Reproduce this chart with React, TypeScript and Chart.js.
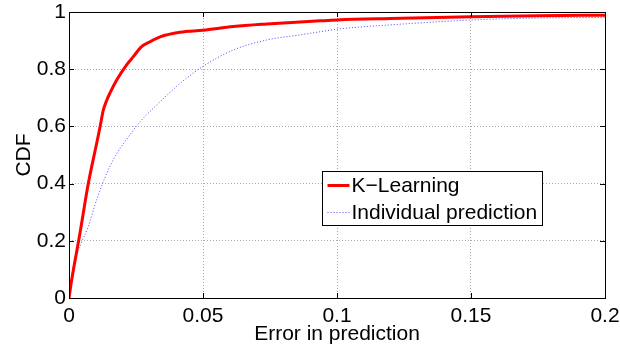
import React, { useEffect, useRef } from "react";
import { Chart, registerables } from "chart.js";

Chart.register(...registerables);

const kLearningX = [0, 0.001, 0.0041, 0.0072, 0.0103, 0.0116, 0.0128, 0.0141, 0.0153, 0.0178, 0.0215, 0.024, 0.0271, 0.0302, 0.034, 0.0414, 0.05, 0.0613, 0.0738, 0.0862, 0.0937, 0.1, 0.12, 0.15, 0.175, 0.2];
const kLearningY = [0, 0.063, 0.227, 0.4, 0.54, 0.599, 0.657, 0.692, 0.717, 0.762, 0.815, 0.844, 0.879, 0.896, 0.913, 0.929, 0.936, 0.949, 0.958, 0.965, 0.969, 0.972, 0.977, 0.983, 0.987, 0.989];
const individualX = [0, 0.0016, 0.0045, 0.0072, 0.0103, 0.0141, 0.0175, 0.0215, 0.0265, 0.034, 0.0414, 0.05, 0.0613, 0.0737, 0.0862, 0.0937, 0.1, 0.12, 0.15, 0.175, 0.2];
const individualY = [0, 0.11, 0.19, 0.25, 0.343, 0.436, 0.5, 0.555, 0.616, 0.686, 0.75, 0.81, 0.867, 0.902, 0.92, 0.931, 0.94, 0.955, 0.972, 0.979, 0.981];

const xTicks = [0, 0.05, 0.1, 0.15, 0.2];
const xTickLabels = ["0", "0.05", "0.1", "0.15", "0.2"];
const yTicks = [0, 0.2, 0.4, 0.6, 0.8, 1];
const yTickLabels = ["0", "0.2", "0.4", "0.6", "0.8", "1"];

const seriesLabels = ["K\u2212Learning", "Individual prediction"];
const xTitle = "Error in prediction";
const yTitle = "CDF";

const FONT = "'Liberation Sans', Arial, Helvetica, sans-serif";

const framePlugin = {
  id: "frameAndLegend",
  afterDraw(chart: any) {
    const { ctx, chartArea } = chart;
    const { left, right, top, bottom } = chartArea;
    const xs = chart.scales.x;
    const ys = chart.scales.y;
    ctx.save();
    ctx.strokeStyle = "#000";
    ctx.lineWidth = 1;
    ctx.setLineDash([]);
    ctx.strokeRect(Math.round(left) + 0.5, Math.round(top) + 0.5, Math.round(right - left), Math.round(bottom - top));
    const tl = 5;
    ctx.beginPath();
    xTicks.forEach((v) => {
      const px = Math.round(xs.getPixelForValue(v)) + 0.5;
      ctx.moveTo(px, bottom);
      ctx.lineTo(px, bottom - tl);
      ctx.moveTo(px, top);
      ctx.lineTo(px, top + tl);
    });
    yTicks.forEach((v) => {
      const py = Math.round(ys.getPixelForValue(v)) + 0.5;
      ctx.moveTo(left, py);
      ctx.lineTo(left + tl, py);
      ctx.moveTo(right, py);
      ctx.lineTo(right - tl, py);
    });
    ctx.stroke();

    const bx = Math.round(left + 253) + 0.5;
    const by = Math.round(top + 159) + 0.5;
    const bw = 220;
    const bh = 54;
    ctx.fillStyle = "#fff";
    ctx.fillRect(bx, by, bw, bh);
    ctx.strokeStyle = "#000";
    ctx.strokeRect(bx, by, bw, bh);
    const ds = chart.data.datasets;
    const rows = [by + 14, by + 41];
    ds.forEach((d: any, i: number) => {
      ctx.strokeStyle = d.borderColor;
      ctx.lineWidth = d.borderWidth;
      ctx.setLineDash(d.borderDash || []);
      ctx.beginPath();
      ctx.moveTo(bx + 5, rows[i]);
      ctx.lineTo(bx + 27, rows[i]);
      ctx.stroke();
      ctx.setLineDash([]);
      ctx.fillStyle = "#000";
      ctx.font = "21px " + FONT;
      ctx.textBaseline = "middle";
      ctx.textAlign = "left";
      ctx.fillText(d.label, bx + 29, rows[i] + 1);
    });
    ctx.restore();
  },
};

const zeroPad = (s: any) => {
  s.paddingTop = 0;
  s.paddingBottom = 0;
  s.paddingLeft = 0;
  s.paddingRight = 0;
};

export default function App() {
  const ref = useRef<HTMLCanvasElement | null>(null);
  useEffect(() => {
    if (!ref.current) return;
    const red = kLearningX.map((x, i) => ({ x, y: kLearningY[i] }));
    const blue = individualX.map((x, i) => ({ x, y: individualY[i] }));
    const chart = new Chart(ref.current, {
      type: "scatter",
      data: {
        datasets: [
          {
            label: seriesLabels[0],
            data: red,
            showLine: true,
            borderColor: "#ff0000",
            backgroundColor: "#ff0000",
            borderWidth: 3,
            pointRadius: 0,
            cubicInterpolationMode: "monotone",
          },
          {
            label: seriesLabels[1],
            data: blue,
            showLine: true,
            borderColor: "rgba(40,40,255,0.85)",
            backgroundColor: "rgba(40,40,255,0.85)",
            borderWidth: 1,
            borderDash: [1, 2],
            pointRadius: 0,
            cubicInterpolationMode: "monotone",
          },
        ],
      },
      options: {
        animation: false,
        responsive: false,
        layout: { padding: { top: 12, right: 15, left: 0, bottom: 0 } },
        plugins: { legend: { display: false }, tooltip: { enabled: false } },
        scales: {
          x: {
            type: "linear",
            min: 0,
            max: 0.2,
            afterBuildTicks: (s: any) => {
              s.ticks = xTicks.map((v) => ({ value: v }));
            },
            afterFit: (s: any) => {
              s.height = 49;
              zeroPad(s);
            },
            ticks: {
              autoSkip: false,
              maxRotation: 0,
              color: "#000",
              padding: 6,
              font: { size: 21, family: FONT },
              callback: (v: any) => {
                const i = xTicks.indexOf(Number(v));
                return i >= 0 ? xTickLabels[i] : "";
              },
            },
            grid: { color: "#a8a8a8", lineWidth: 1, drawTicks: false },
            border: { display: false, dash: [1, 2] },
            title: {
              display: true,
              text: xTitle,
              color: "#000",
              font: { size: 21, family: FONT },
              padding: { top: 0, bottom: 0 },
            },
          },
          y: {
            type: "linear",
            min: 0,
            max: 1,
            afterBuildTicks: (s: any) => {
              s.ticks = yTicks.map((v) => ({ value: v }));
            },
            afterFit: (s: any) => {
              s.width = 69;
              zeroPad(s);
            },
            ticks: {
              autoSkip: false,
              color: "#000",
              padding: 3,
              font: { size: 21, family: FONT },
              callback: (v: any) => {
                const i = yTicks.indexOf(Number(v));
                return i >= 0 ? yTickLabels[i] : "";
              },
            },
            grid: { color: "#a8a8a8", lineWidth: 1, drawTicks: false },
            border: { display: false, dash: [1, 2] },
            title: {
              display: true,
              text: yTitle,
              color: "#000",
              font: { size: 21, family: FONT },
              padding: { top: 12, bottom: 0 },
            },
          },
        },
      },
      plugins: [framePlugin],
    } as any);
    return () => chart.destroy();
  }, []);
  return (
    <div style={{ position: "absolute", left: 0, top: 0, width: 620, height: 347, background: "#fff" }}>
      <canvas ref={ref} width={620} height={347} />
    </div>
  );
}
